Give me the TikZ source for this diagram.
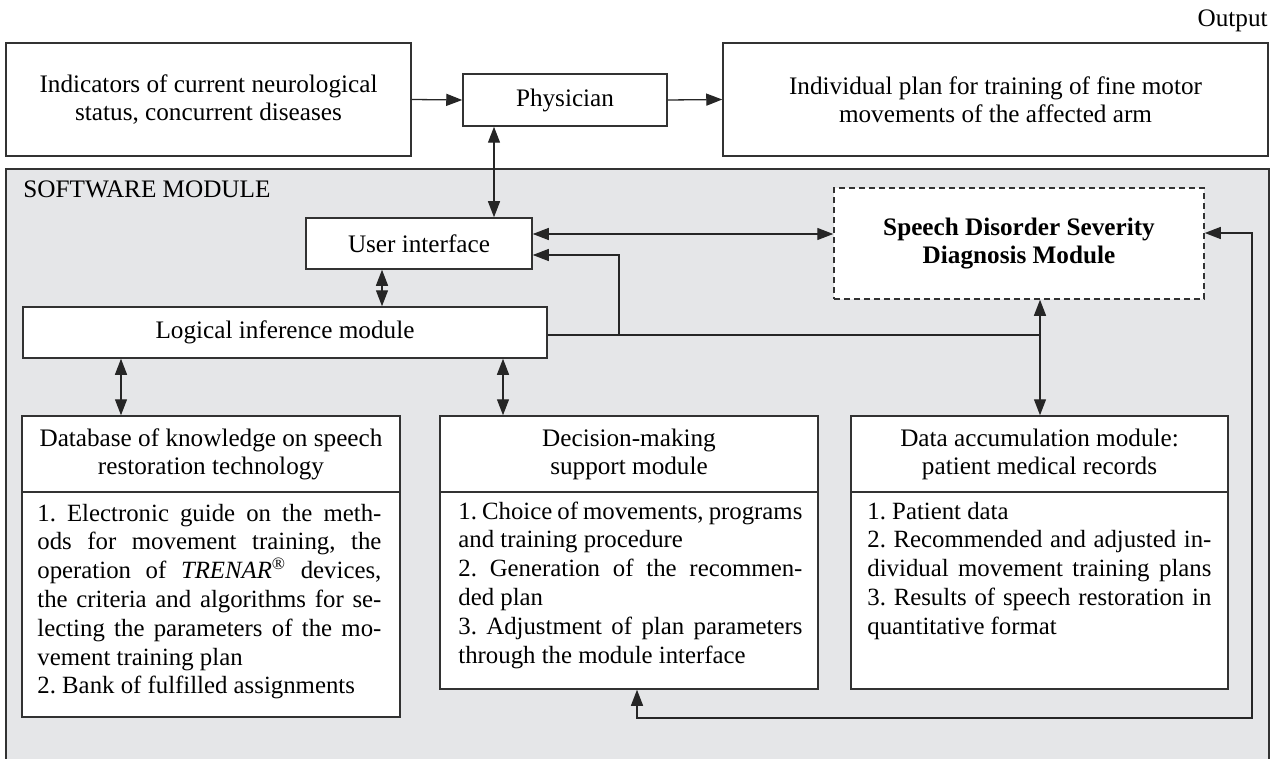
\documentclass[tikz,border=0pt]{standalone}
\usepackage{fontspec}
\setmainfont{Liberation Serif}
\usetikzlibrary{arrows.meta,calc}
\definecolor{bgray}{RGB}{229,230,232}
\definecolor{lc}{RGB}{50,50,50}
\newcommand\pbox[7]{\node[#6,minimum width={(#4-#2)*0.5pt},minimum height={(#5-#3)*0.5pt}] (#1) at ({(#2+#4)/2},{(#3+#5)/2}) {#7};}
\newcommand\itempar{\fontsize{12.4}{14.4}\selectfont\frenchspacing\tolerance=10000\hbadness=10000\hfuzz=3pt\hyphenpenalty=10000\parindent=0pt}
\begin{document}
\begin{tikzpicture}[x=0.5pt,y=-0.5pt,
  box/.style={draw=lc,line width=0.75pt,fill=white,inner sep=0pt,align=center,font=\fontsize{12.6}{14}\selectfont},
  dashbox/.style={box,dash pattern=on 3pt off 2pt},
  area/.style={draw=lc,line width=0.8pt,fill=bgray,inner sep=0pt},
  txt/.style={inner sep=0pt,font=\fontsize{12.6}{14}\selectfont},
  itemtxt/.style={inner sep=0pt,anchor=base west},
  con/.style={draw=black!85,line width=0.65pt},
  tip/.style={-{Triangle[length=8pt,width=6pt]}},
  dtip/.style={{Triangle[length=8pt,width=6pt]}-{Triangle[length=8pt,width=6pt]}}]
\useasboundingbox (0,0) rectangle (1279,759);
\fill[white] (0,0) rectangle (1279,759);
% software module area
\pbox{sw}{6}{169}{1269}{768}{area}{}
\node[txt,anchor=base west] (swlab) at (23,198) {SOFTWARE MODULE};
% top row
\node[txt,anchor=base east] (outlab) at (1268,27) {Output};
\pbox{ind}{6}{43}{411}{156}{box}{Indicators of current neurological\\status, concurrent diseases}
\pbox{phys}{463}{74}{667}{126}{box}{Physician}
\pbox{plan}{723}{43}{1268}{156}{box}{Individual plan for training of fine motor\\movements of the affected arm}
% software module boxes
\pbox{ui}{306}{218}{532}{269}{box}{User interface}
\pbox{diag}{834}{188}{1204}{299}{dashbox}{\bfseries Speech Disorder Severity\\\bfseries Diagnosis Module}
\pbox{logic}{23}{307}{547}{358}{box}{Logical inference module}
\pbox{dbh}{22}{416}{400}{492}{box}{Database of knowledge on speech\\restoration technology}
\pbox{dbi}{22}{492}{400}{717}{box}{}
\pbox{dech}{440}{416}{818}{492}{box}{Decision-making\\support module}
\pbox{deci}{440}{492}{818}{689}{box}{}
\pbox{datah}{851}{416}{1228}{492}{box}{Data accumulation module:\\patient medical records}
\pbox{datai}{851}{492}{1228}{689}{box}{}
\node[itemtxt] (dbt) at (37,521) {\parbox[t]{172pt}{\itempar
1. Electronic guide on the meth-\linebreak
ods for movement training, the\linebreak
operation of \textit{TRENAR}\textsuperscript{®} devices,\linebreak
the criteria and algorithms for se-\linebreak
lecting the parameters of the mo-\linebreak
vement training plan\\
2. Bank of fulfilled assignments}};
\node[itemtxt] (dect) at (458,519) {\parbox[t]{172pt}{\itempar
1. Choice of movements, programs\linebreak
and training procedure\\
2. Generation of the recommen-\linebreak
ded plan\\
3. Adjustment of plan parameters\linebreak
through the module interface}};
\node[itemtxt] (datat) at (867,519) {\parbox[t]{172pt}{\itempar
1. Patient data\\
2. Recommended and adjusted in-\linebreak
dividual movement training plans\linebreak
3. Results of speech restoration in\linebreak
quantitative format}};
% helper coordinates
\coordinate (xa) at (494,0);
\coordinate (ya) at (0,234);
\coordinate (yb) at (0,335);
\coordinate (yc) at (0,255);
\coordinate (xb) at (619,0);
\coordinate (xj) at (1040,0);
\coordinate (xc) at (382,0);
\coordinate (xd) at (121,0);
\coordinate (xe) at (503,0);
\coordinate (xf) at (637,0);
\coordinate (yf) at (0,718);
\coordinate (xr) at (1252,0);
\coordinate (yr) at (0,233);
% connectors
\draw[con,tip] (ind.east) -- (phys.west);
\draw[con,tip] (phys.east) -- (plan.west);
\draw[con,dtip] (phys.south -| xa) -- (ui.north -| xa);
\draw[con,dtip] (ui.east |- ya) -- (diag.west |- ya);
\draw[con] (logic.east |- yb) -- (xj |- yb);
\draw[con,tip] (xb |- yb) -- (xb |- yc) -- (ui.east |- yc);
\draw[con,dtip] (diag.south -| xj) -- (datah.north -| xj);
\draw[con,dtip] (ui.south -| xc) -- (logic.north -| xc);
\draw[con,dtip] (logic.south -| xd) -- (dbh.north -| xd);
\draw[con,dtip] (logic.south -| xe) -- (dech.north -| xe);
\draw[con,dtip] (deci.south -| xf) -- (xf |- yf) -- (xr |- yf) -- (xr |- yr) -- (diag.east |- yr);
\end{tikzpicture}
\end{document}
